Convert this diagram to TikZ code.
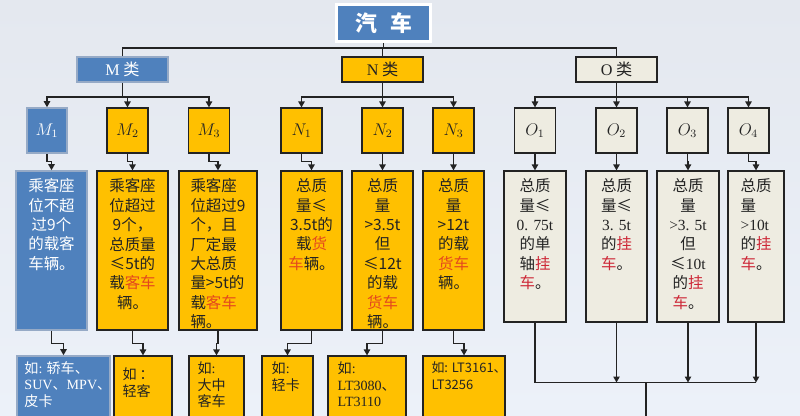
\documentclass[tikz,border=0pt]{standalone}
\usepackage[no-math]{fontspec}
\setmainfont{Noto Sans CJK SC}
\newfontfamily\latin{Liberation Serif}
\usetikzlibrary{arrows.meta}

\definecolor{bgtop}{RGB}{228,232,239}
\definecolor{bgbot}{RGB}{236,241,249}
\definecolor{mblue}{RGB}{79,129,189}
\definecolor{mline}{RGB}{150,170,198}
\definecolor{namber}{RGB}{255,192,0}
\definecolor{obeige}{RGB}{238,236,225}
\definecolor{ink}{RGB}{35,35,35}
\definecolor{hlN}{RGB}{228,72,30}
\definecolor{hlO}{RGB}{205,40,55}

\begin{document}
\begin{tikzpicture}[x=0.025cm, y=-0.025cm,
      cls/.style  ={minimum width=2.025cm, minimum height=0.625cm, inner sep=0pt, font=\fontsize{11.5}{13}\selectfont},
      sub/.style  ={minimum width=1.025cm, minimum height=1.125cm, inner sep=0pt, font=\fontsize{11.5}{13}\selectfont},
      desc/.style ={minimum width=1.525cm, minimum height=3.975cm, inner sep=0pt},
      ex/.style   ={minimum height=2cm, inner sep=0pt},
      txt/.style  ={anchor=north, align=center, inner sep=0pt, text=ink, font=\fontsize{11}{13.8}\selectfont},
      extxt/.style={anchor=north west, align=left, inner sep=0pt, text=ink, font=\fontsize{10}{11.8}\selectfont},
      mbox/.style ={draw=mline, line width=1.1pt, fill=mblue, text=white},
      nbox/.style ={draw=ink, line width=0.8pt, fill=namber, text=ink},
      obox/.style ={draw=ink, line width=0.8pt, fill=obeige, text=ink},
      link/.style ={draw=ink, line width=0.9pt},
      >={Triangle[length=1.5mm, width=1.6mm]}
    ]
    \useasboundingbox (0,0) rectangle (800,415);
    \clip (0,0) rectangle (800,415);
    \shade[top color=bgtop, bottom color=bgbot] (0,0) rectangle (800,415);

    % Wurzel und Klassen
    \node[mbox, draw=white, line width=2.2pt, minimum width=2.36cm, minimum height=0.94cm,
          inner sep=0pt, font=\fontsize{15.5}{17}\selectfont\bfseries] (car) at (383.5,23) {汽\hspace{0.6em}车};
    \node[cls, mbox, minimum width=2.275cm] (clsM) at (122.5,69.5) {{\latin M} 类};
    \node[cls, nbox] (clsN) at (382.5,69.5) {{\latin N} 类};
    \node[cls, obox] (clsO) at (616.5,69.5) {{\latin O} 类};

    % Unterklassen
    \node[sub, mbox, minimum width=1cm] (m1) at (47,130.5) {$M_1$};
    \node[sub, nbox] (m2) at (127.5,130.5) {$M_2$};
    \node[sub, nbox] (m3) at (209,130.5)   {$M_3$};
    \node[sub, nbox] (n1) at (301.5,130.5) {$N_1$};
    \node[sub, nbox] (n2) at (382.5,130.5) {$N_2$};
    \node[sub, nbox] (n3) at (453.5,130.5) {$N_3$};
    \node[sub, obox] (o1) at (535,130.5)   {$O_1$};
    \node[sub, obox] (o2) at (616.5,130.5) {$O_2$};
    \node[sub, obox] (o3) at (687.5,130.5) {$O_3$};
    \node[sub, obox] (o4) at (748.5,130.5) {$O_4$};

    % Beschreibungen
    \node[desc, mbox, minimum width=1.775cm] (dm1) at (51.5,250.5) {};
    \node[desc, nbox, minimum width=1.775cm] (dm2) at (132.5,250.5) {};
    \node[desc, nbox, minimum width=1.95cm]  (dm3) at (218,250.5) {};
    \node[desc, nbox] (dn1) at (311.5,250.5) {};
    \node[desc, nbox] (dn2) at (382.5,250.5) {};
    \node[desc, nbox] (dn3) at (453.5,250.5) {};
    \node[desc, obox, minimum height=3.775cm, minimum width=1.55cm] (do1) at (535,246.5) {};
    \node[desc, obox, minimum height=3.775cm] (do2) at (616.5,246.5) {};
    \node[desc, obox, minimum height=3.775cm, minimum width=1.55cm] (do3) at (688,246.5) {};
    \node[desc, obox, minimum height=3.775cm, minimum width=1.4cm]  (do4) at (756,246.5) {};

    \node[txt, text=white] (tm1) at ([yshift=-0.2cm]dm1.north) {乘客座\\位不超\\过9个\\的载客\\车辆。};
    \node[txt] (tm2) at ([yshift=-0.2cm]dm2.north) {乘客座\\位超过\\9个，\\总质量\\≤5t的\\载{\color{hlN}客车}\\辆。};
    \node[txt, align=left] (tm3) at ([yshift=-0.2cm]dm3.north) {乘客座\\位超过9\\个，且\\厂定最\\大总质\\量>5t的\\载{\color{hlN}客车}\\辆。};
    \node[txt] (tn1) at ([yshift=-0.2cm]dn1.north) {总质\\量≤\\3.5t的\\载{\color{hlN}货}\\{\color{hlN}车}辆。};
    \node[txt] (tn2) at ([yshift=-0.2cm]dn2.north) {总质\\量\\>3.5t\\但\\≤12t\\的载\\{\color{hlN}货车}\\辆。};
    \node[txt] (tn3) at ([yshift=-0.2cm]dn3.north) {总质\\量\\>12t\\的载\\{\color{hlN}货车}\\辆。};
    \node[txt] (to1) at ([yshift=-0.2cm]do1.north) {总质\\量≤\\{\latin 0. 75t}\\的单\\轴{\color{hlO}挂}\\{\color{hlO}车}。};
    \node[txt] (to2) at ([yshift=-0.2cm]do2.north) {总质\\量≤\\{\latin 3. 5t}\\的{\color{hlO}挂}\\{\color{hlO}车}。};
    \node[txt] (to3) at ([yshift=-0.2cm]do3.north) {总质\\量\\{\latin >3. 5t}\\但\\≤{\latin 10t}\\的{\color{hlO}挂}\\{\color{hlO}车}。};
    \node[txt, align=left] (to4) at ([yshift=-0.2cm]do4.north) {总质\\量\\{\latin >10t}\\的{\color{hlO}挂}\\{\color{hlO}车}。};

    % Beispiele (unten abgeschnitten)
    \node[ex, mbox, minimum width=2.325cm] (em1) at (63.5,396) {};
    \node[ex, nbox, minimum width=1.45cm]  (em2) at (143,396) {};
    \node[ex, nbox, minimum width=1.375cm] (em3) at (216.5,396) {};
    \node[ex, nbox, minimum width=1.275cm] (en1) at (287.5,396) {};
    \node[ex, nbox, minimum width=1.95cm]  (en2) at (367,396) {};
    \node[ex, nbox, minimum width=2.05cm]  (en3) at (464,396) {};

    \node[extxt, text=white] (tem1) at ([xshift=0.2cm, yshift=-0.15cm]em1.north west) {如{\latin :} 轿车、\\{\latin SUV}、{\latin MPV}、\\皮卡};
    \node[extxt] (tem2) at ([xshift=0.22cm, yshift=-0.3cm]em2.north west) {如 ：\\轻客};
    \node[extxt] (tem3) at ([xshift=0.22cm, yshift=-0.15cm]em3.north west) {如{\latin :}\\大中\\客车};
    \node[extxt] (ten1) at ([xshift=0.25cm, yshift=-0.15cm]en1.north west) {如{\latin :}\\轻卡};
    \node[extxt] (ten2) at ([xshift=0.25cm, yshift=-0.15cm]en2.north west) {如{\latin :}\\{\latin LT3080}、\\{\latin LT3110}};
    \node[extxt, font=\fontsize{9.2}{11.8}\selectfont] (ten3) at ([xshift=0.22cm, yshift=-0.15cm]en3.north west) {如: LT3161、\\LT3256};

    % Baum oben
    \coordinate (hub)  at (383.5,48);
    \coordinate (mhub) at (122.5,97);
    \coordinate (nhub) at (382.5,97);
    \coordinate (ohub) at (616.5,97);
    \draw[link] (car.south) -- (hub);
    \draw[link] (clsM.north) |- (hub) -| (clsO.north);
    \draw[link] (clsN.north) -- (clsN.north |- hub);
    \draw[link] (clsM.south) -- (mhub);
    \draw[link] (clsN.south) -- (nhub);
    \draw[link] (clsO.south) -- (ohub);
    \foreach \s in {m1,m2,m3} \draw[link,->] (mhub) -| (\s.north);
    \foreach \s in {n1,n2,n3} \draw[link,->] (nhub) -| (\s.north);
    \foreach \s in {o1,o2,o3,o4} \draw[link,->] (ohub) -| (\s.north);

    % Unterklasse -> Beschreibung -> Beispiel
    \foreach \s in {m1,m2,m3,n1,n2,n3,o1,o2,o3,o4}
      \draw[link,->] (\s.south) -- ++(0,8) -| (d\s.north);
    \foreach \s in {m1,m2,m3,n1,n2,n3}
      \draw[link,->] (d\s.south) -- ++(0,13) -| (e\s.north);

    % O-Klassen zusammengefuehrt
    \coordinate (obus) at (646,382.5);
    \coordinate (oend) at (646,420);
    \draw[link] (do1.south) |- (do4.south |- obus);
    \foreach \s in {o2,o3,o4} \draw[link,->] (d\s.south) -- (d\s.south |- obus);
    \draw[link] (obus) -- (oend);
  \end{tikzpicture}
\end{document}
